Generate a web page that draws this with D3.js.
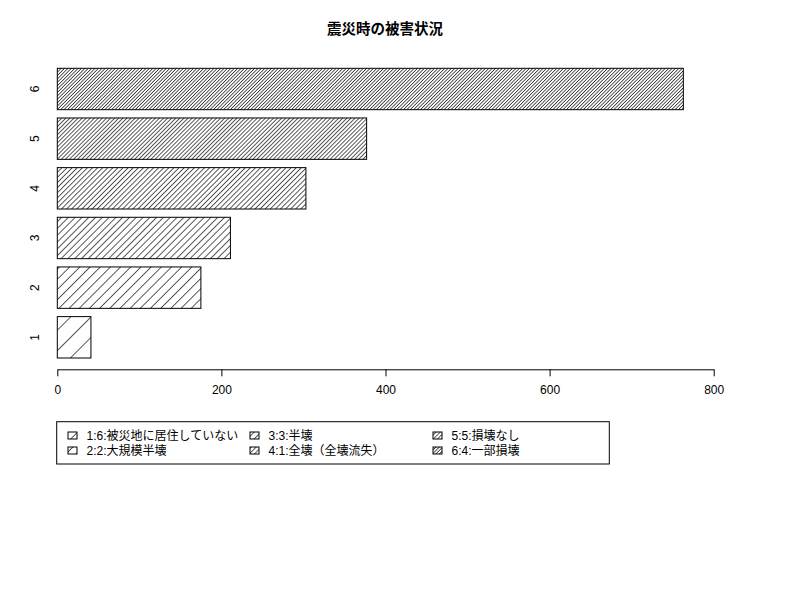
<!DOCTYPE html>
<html>
<head>
<meta charset="utf-8">
<script src="https://cdn.jsdelivr.net/npm/d3@7"></script>
<style>
  body { margin: 0; background: #fff; }
  text { font-family: "Liberation Sans", "Noto Sans CJK JP", sans-serif; fill: #000; }
</style>
</head>
<body>
<div id="Chart"></div>
<script>
// bar data, bottom to top
const Categories = ["1", "2", "3", "4", "5", "6"];
const Values = [41, 175, 211, 303, 377, 763];
// hatch density, lines per inch (72 px)
const Densities = [5, 10, 15, 20, 25, 30];
const XTicks = [0, 200, 400, 600, 800];
const LegendLabels = ["1:6:被災地に居住していない", "2:2:大規模半壊", "3:3:半壊",
                      "4:1:全壊（全壊流失）", "5:5:損壊なし", "6:4:一部損壊"];
const Title = "震災時の被害状況";

const Width = 800, Height = 600;

let Canvas = d3.select("#Chart").append("svg")
    .attr("width", Width).attr("height", Height);

// one hatch pattern per density
let Defs = Canvas.append("defs");
Densities.forEach((d, i) => {
    const Gap = 72 / d;
    let P = Defs.append("pattern").attr("id", `Hatch${i}`)
        .attr("patternUnits", "userSpaceOnUse")
        .attr("width", Gap).attr("height", 10)
        .attr("patternTransform", "rotate(45)");
    P.append("line").attr("x1", 0).attr("y1", 0).attr("x2", 0).attr("y2", 10)
        .attr("stroke", "#000").attr("stroke-width", 1.3);
});

let ScaleX = d3.scaleLinear().domain([0, 800]).range([57.3, 713.7]);
// barplot units: bar i covers [0.2 + 1.2*i, 1.2*(i+1)]
let ScaleY = d3.scaleLinear().domain([0.2, 7.2]).range([358, 68.3]);

Canvas.selectAll("rect.Bar").data(Values).enter().append("rect")
    .attr("class", "Bar")
    .attr("x", ScaleX(0))
    .attr("y", (v, i) => ScaleY(1.2 * (i + 1)))
    .attr("width", v => ScaleX(v) - ScaleX(0))
    .attr("height", (v, i) => ScaleY(0.2 + 1.2 * i) - ScaleY(1.2 * (i + 1)))
    .attr("fill", (v, i) => `url(#Hatch${i})`)
    .attr("stroke", "#000").attr("stroke-width", 1);

// category labels, rotated like R's las=0
Canvas.selectAll("text.YLabel").data(Categories).enter().append("text")
    .attr("class", "YLabel")
    .attr("transform", (c, i) => `translate(39, ${ScaleY(0.7 + 1.2 * i)}) rotate(-90)`)
    .attr("text-anchor", "middle")
    .style("font-size", "12px")
    .text(c => c);

// x axis
let AxisX = d3.axisBottom(ScaleX).tickValues(XTicks).tickSize(7).tickSizeOuter(0).tickPadding(9);
let AxisG = Canvas.append("g").attr("transform", "translate(0, 369.3)").call(AxisX);
AxisG.select(".domain").attr("stroke", "#000");
AxisG.selectAll("text").style("font-size", "12px")
    .style("font-family", "Liberation Sans, sans-serif");

// title
Canvas.append("text")
    .attr("x", 385).attr("y", 34)
    .attr("text-anchor", "middle")
    .style("font-size", "14.5px").style("font-weight", "bold")
    .text(Title);

// legend
Canvas.append("rect")
    .attr("x", 56.7).attr("y", 421.7).attr("width", 552.6).attr("height", 42.3)
    .attr("fill", "none").attr("stroke", "#000");
const LegendCols = [68, 250, 433];
const LegendRows = [435.5, 450.5];
LegendLabels.forEach((lab, i) => {
    const cx = LegendCols[Math.floor(i / 2)];
    const cy = LegendRows[i % 2];
    Canvas.append("rect")
        .attr("x", cx).attr("y", cy - 3.5).attr("width", 9).attr("height", 7)
        .attr("fill", `url(#Hatch${i})`)
        .attr("stroke", "#000").attr("stroke-width", 1);
    Canvas.append("text")
        .attr("x", cx + 18.5).attr("y", cy + 4.3)
        .style("font-size", "12px")
        .text(lab);
});
</script>
</body>
</html>
